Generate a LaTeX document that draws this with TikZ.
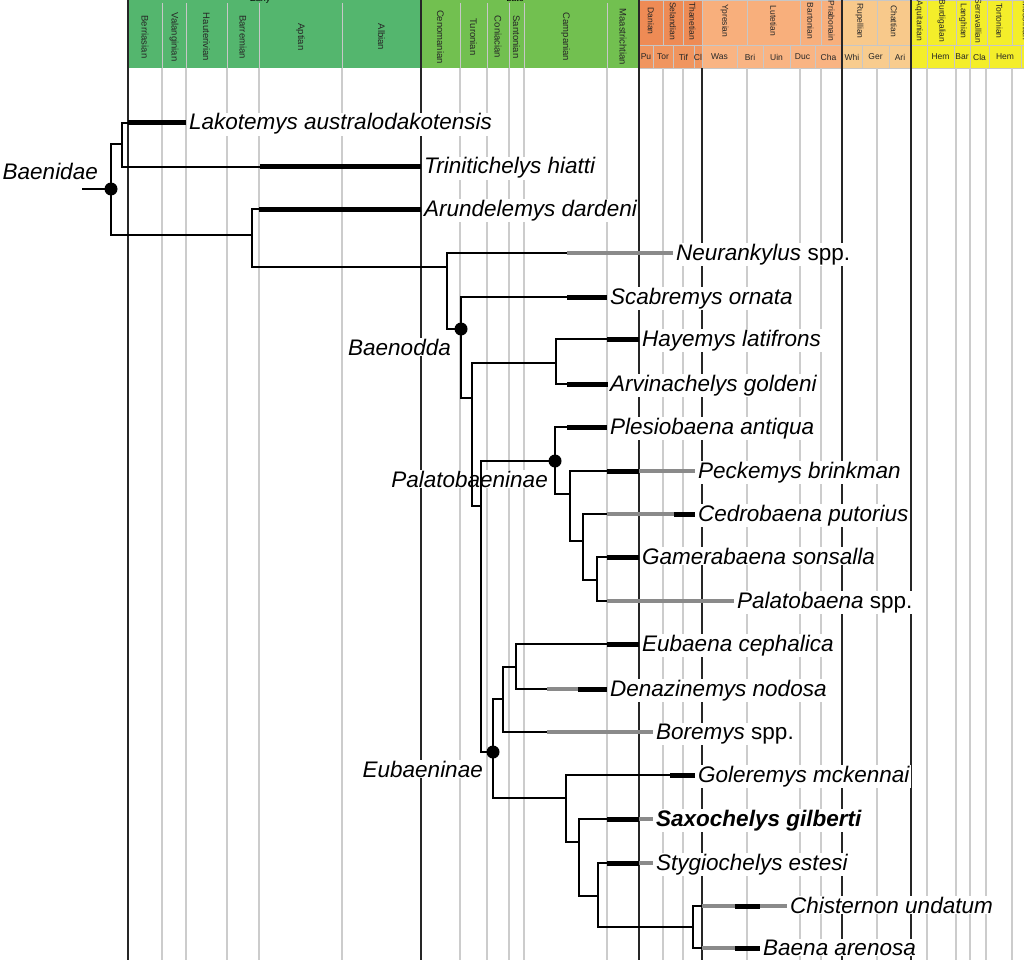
\documentclass[tikz,border=0pt]{standalone}
\usepackage{fontspec}
\setmainfont{Liberation Sans}
\definecolor{EK}{HTML}{54B66E}
\definecolor{LK}{HTML}{72C050}
\definecolor{PAL}{HTML}{EE8B55}
\definecolor{PALb}{HTML}{F0955F}
\definecolor{EOC}{HTML}{F8AF7C}
\definecolor{EOCb}{HTML}{F9B483}
\definecolor{OLI}{HTML}{F8C98B}
\definecolor{OLIb}{HTML}{F8CC8E}
\definecolor{MIO}{HTML}{F4EE2A}
\definecolor{gridgray}{HTML}{CCCCCC}
\definecolor{bargray}{HTML}{8A8A8A}
\newcommand\taxfont{\fontsize{22.5}{26}\selectfont}
\newcommand\hdfont{\fontsize{8.5}{9}\selectfont}
\newcommand\crfont{\fontsize{9.5}{10}\selectfont}
\begin{document}
\begin{tikzpicture}[x=1pt,y=-1pt,
  hdsep/.style={draw=black!22, line width=0.8pt},
  cell/.style={draw=black!22, line width=0.6pt},
  stagelab/.style={rotate=-90, font=\hdfont, text=black!85, inner sep=0pt},
  crlab/.style={rotate=-90, font=\crfont, text=black!85, inner sep=0pt},
  nalma/.style={font=\hdfont, text=black!85, inner sep=0pt},
  gridline/.style={draw=gridgray, line width=1.3pt},
  darkline/.style={draw=black!85, line width=1.3pt},
  branch/.style={line width=2pt, draw=black},
  kbar/.style={line width=5pt, draw=black},
  gbar/.style={line width=4.5pt, draw=bargray},
  taxon/.style={anchor=base west, font=\taxfont\itshape, fill=white, inner sep=1pt},
  clade/.style={anchor=base east, font=\taxfont\itshape, fill=white, inner sep=1pt},
  nodedot/.style={fill=black}]
\useasboundingbox (0,0) rectangle (1024,960);
\clip (0,0) rectangle (1024,960);
\fill[white] (0,0) rectangle (1024,960);
% ---------- header: Cretaceous ----------
\foreach \a/\b/\nm in {128/162/Berriasian,162/186/Valanginian,186/227/Hauterivian,227/259/Barremian,259/342/Aptian,342/421/Albian}{
  \fill[EK] (\a,0) rectangle (\b,68);
  \draw[hdsep] (\a,3) -- (\a,68);
  \node[crlab] (k\a) at ({(\a+\b)/2},37) {\nm};
}
\foreach \a/\b/\nm in {421/460/Cenomanian,460/487/Turonian,487/509/Coniacian,509/524/Santonian,524/607/Campanian,607/639/Maastrichtian}{
  \fill[LK] (\a,0) rectangle (\b,68);
  \draw[hdsep] (\a,3) -- (\a,68);
  \node[crlab] (k\a) at ({(\a+\b)/2},37) {\nm};
}
\node[font=\fontsize{9}{10}\selectfont, anchor=base, inner sep=0pt] (early) at (260,2) {Early};
\node[font=\fontsize{9}{10}\selectfont, anchor=base, inner sep=0pt] (late) at (515,1.5) {Late};
% ---------- header: Cenozoic stages ----------
\foreach \a/\b/\c/\nm in {639/663/PAL/Danian,663/683/PAL/Selandian,683/702/PAL/Thanetian,702/747/EOC/Ypresian,747/800/EOC/Lutetian,800/821/EOC/Bartonian,821/842/EOC/Priabonain,842/877/OLI/Rupellian,877/911/OLI/Chattian,911/927/MIO/Aquitanian,927/956/MIO/Burdigalian,956/970/MIO/Langhian,970/987/MIO/Serravallian,987/1012/MIO/Tortonian,1012/1040/MIO/Messinian}{
  \filldraw[cell, fill=\c] (\a,0) rectangle (\b,45);
  \node[stagelab] (u\a) at ({(\a+\b)/2},21) {\nm};
}
% ---------- header: NALMA row ----------
\foreach \a/\b/\c/\nm in {639/653/PALb/Pu,653/673/PALb/Tor,673/694/PALb/Tif,694/702/PALb/Cl,702/737/EOCb/Was,737/763/EOCb/Bri,763/790/EOCb/Uin,790/815/EOCb/Duc,815/842/EOCb/Cha,842/862/OLIb/Whi,862/889/OLIb/Ger,889/911/OLIb/Ari,911/927/MIO/{},927/954/MIO/Hem,954/970/MIO/Bar,970/989/MIO/Cla,989/1021/MIO/Hem,1021/1040/MIO/{}}{
  \filldraw[cell, fill=\c] (\a,45) rectangle (\b,68);
  \node[nalma] (l\a) at ({(\a+\b)/2},57) {\nm};
}
% ---------- grid ----------
\foreach \x in {162,186,227,259,342,460,487,509,524,607,663,683,747,800,821,877,927,956,970,986,1012}
  \draw[gridline] (\x,68) -- (\x,960);
\foreach \x in {128,421,639,842,911}
  \draw[darkline] (\x,0) -- (\x,960);
\draw[darkline] (702,68) -- (702,960);
% ---------- labels ----------
\node[taxon] (tLak) at (188,130) {Lakotemys australodakotensis};
\node[taxon] (tTri) at (423,174) {Trinitichelys hiatti};
\node[taxon] (tAru) at (423,216) {Arundelemys dardeni};
\node[taxon] (tNeu) at (675,260) {Neurankylus {\upshape spp.}};
\node[taxon] (tSca) at (609,304) {Scabremys ornata};
\node[taxon] (tHay) at (641,346) {Hayemys latifrons};
\node[taxon] (tArv) at (609,391) {Arvinachelys goldeni};
\node[taxon] (tPle) at (609,434) {Plesiobaena antiqua};
\node[taxon] (tPec) at (697,478) {Peckemys brinkman};
\node[taxon] (tCed) at (697,521) {Cedrobaena putorius};
\node[taxon] (tGam) at (641,564) {Gamerabaena sonsalla};
\node[taxon] (tPal) at (736,608) {Palatobaena {\upshape spp.}};
\node[taxon] (tEub) at (641,651) {Eubaena cephalica};
\node[taxon] (tDen) at (609,696) {Denazinemys nodosa};
\node[taxon] (tBor) at (655,739) {Boremys {\upshape spp.}};
\node[taxon] (tGol) at (697,782) {Goleremys mckennai};
\node[taxon] (tSax) at (655,826) {\bfseries Saxochelys gilberti};
\node[taxon] (tSty) at (655,870) {Stygiochelys estesi};
\node[taxon] (tChi) at (789,913) {Chisternon undatum};
\node[taxon] (tBae) at (762,955) {Baena arenosa};
\node[clade] (cBaenidae) at (99,179) {Baenidae};
\node[clade] (cBaenodda) at (452,355) {Baenodda};
\node[clade] (cPalat) at (549,487) {Palatobaeninae};
\node[clade] (cEubaen) at (484,777) {Eubaeninae};
% ---------- tree nodes ----------
\coordinate (stem) at (82,189);
\coordinate (root) at (111,189);
\coordinate (nA) at (122,144);
\coordinate (nB) at (252,235);
\coordinate (nC) at (447,267);
\coordinate (nD) at (461,329);
\coordinate (nE) at (472,398);
\coordinate (nF) at (556,363);
\coordinate (nG) at (481,506);
\coordinate (nH) at (555,461);
\coordinate (nJ) at (570,494);
\coordinate (nK) at (583,541);
\coordinate (nL) at (597,580);
\coordinate (nI) at (493,752);
\coordinate (nM) at (503,699);
\coordinate (nO) at (516,667);
\coordinate (nN) at (566,798);
\coordinate (nP) at (579,842);
\coordinate (nQ) at (598,896);
\coordinate (nR) at (693,927);
% tips (start of range bars)
\coordinate (lak) at (128,123);
\coordinate (tri) at (260,167);
\coordinate (aru) at (259,209);
\coordinate (neu) at (567,253);
\coordinate (sca) at (567,297);
\coordinate (hay) at (607,339);
\coordinate (arv) at (567,384);
\coordinate (ple) at (567,427);
\coordinate (pec) at (607,471);
\coordinate (ced) at (607,514);
\coordinate (gam) at (607,557);
\coordinate (pal) at (607,601);
\coordinate (eub) at (607,644);
\coordinate (den) at (547,689);
\coordinate (bor) at (547,732);
\coordinate (gol) at (670,775);
\coordinate (sax) at (607,819);
\coordinate (sty) at (607,863);
\coordinate (chi) at (702,906);
\coordinate (bae) at (702,948);
% ---------- branches ----------
\draw[branch] (stem) -- (root);
\draw[branch] (root) |- (nA);  \draw[branch] (root) |- (nB);
\draw[branch] (nA) |- (lak);   \draw[branch] (nA) |- (tri);
\draw[branch] (nB) |- (aru);   \draw[branch] (nB) |- (nC);
\draw[branch] (nC) |- (neu);   \draw[branch] (nC) |- (nD);
\draw[branch] (nD) |- (sca);   \draw[branch] (nD) |- (nE);
\draw[branch] (nE) |- (nF);    \draw[branch] (nE) |- (nG);
\draw[branch] (nF) |- (hay);   \draw[branch] (nF) |- (arv);
\draw[branch] (nG) |- (nH);    \draw[branch] (nG) |- (nI);
\draw[branch] (nH) |- (ple);   \draw[branch] (nH) |- (nJ);
\draw[branch] (nJ) |- (pec);   \draw[branch] (nJ) |- (nK);
\draw[branch] (nK) |- (ced);   \draw[branch] (nK) |- (nL);
\draw[branch] (nL) |- (gam);   \draw[branch] (nL) |- (pal);
\draw[branch] (nI) |- (nM);    \draw[branch] (nI) |- (nN);
\draw[branch] (nM) |- (nO);    \draw[branch] (nM) |- (bor);
\draw[branch] (nO) |- (eub);   \draw[branch] (nO) |- (den);
\draw[branch] (nN) |- (gol);   \draw[branch] (nN) |- (nP);
\draw[branch] (nP) |- (sax);   \draw[branch] (nP) |- (nQ);
\draw[branch] (nQ) |- (sty);   \draw[branch] (nQ) |- (nR);
\draw[branch] (nR) |- (chi);   \draw[branch] (nR) |- (bae);
% ---------- stratigraphic range bars ----------
\draw[kbar] (lak) -- ++(58,0);
\draw[kbar] (tri) -- ++(161,0);
\draw[kbar] (aru) -- ++(162,0);
\draw[gbar] (neu) -- ++(106,0);
\draw[kbar] (sca) -- ++(40,0);
\draw[kbar] (hay) -- ++(32,0);
\draw[kbar] (arv) -- ++(41,0);
\draw[kbar] (ple) -- ++(40,0);
\draw[kbar] (pec) -- ++(32,0); \draw[gbar] (639,471) -- ++(56,0);
\draw[gbar] (ced) -- ++(67,0); \draw[kbar] (674,514) -- ++(21,0);
\draw[kbar] (gam) -- ++(32,0);
\draw[gbar] (pal) -- ++(127,0);
\draw[kbar] (eub) -- ++(32,0);
\draw[gbar] (den) -- ++(31,0); \draw[kbar] (578,689) -- ++(29,0);
\draw[gbar] (bor) -- ++(106,0);
\draw[kbar] (gol) -- ++(25,0);
\draw[kbar] (sax) -- ++(32,0); \draw[gbar] (639,819) -- ++(14,0);
\draw[kbar] (sty) -- ++(32,0); \draw[gbar] (639,863) -- ++(14,0);
\draw[gbar] (chi) -- ++(33,0); \draw[kbar] (735,906) -- ++(25,0); \draw[gbar] (760,906) -- ++(27,0);
\draw[gbar] (bae) -- ++(33,0); \draw[kbar] (735,948) -- ++(25,0);
% ---------- node dots ----------
\fill[nodedot] (root) circle (6.5pt);
\fill[nodedot] (nD) circle (6.5pt);
\fill[nodedot] (nH) circle (6.5pt);
\fill[nodedot] (nI) circle (6.5pt);
\end{tikzpicture}
\end{document}
